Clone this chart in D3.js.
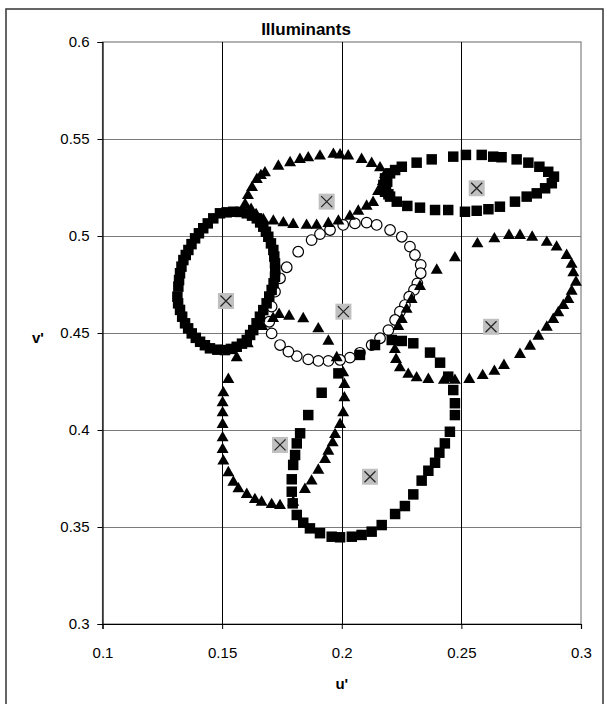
<!DOCTYPE html>
<html>
<head>
<meta charset="utf-8">
<script src="https://cdn.jsdelivr.net/npm/d3@7"></script>
<style>
  body { margin: 0; background: #fff; }
  svg { display: block; font-family: Arial, "Liberation Sans", sans-serif; }
</style>
</head>
<body>
<svg id="chart" width="607" height="704"></svg>
<script>
// tick labels
var uTicks = [0.1, 0.15, 0.2, 0.25, 0.3];
var vTicks = [0.3, 0.35, 0.4, 0.45, 0.5, 0.55, 0.6];

// open circles series [u', v']
var circlePts = [
  [0.1951,0.5031],[0.2006,0.5057],[0.2055,0.5065],[0.2104,0.5069],[0.2146,0.5057],[0.2202,0.5031],
  [0.2251,0.4996],[0.2285,0.4945],[0.2306,0.4902],[0.2330,0.4851],[0.2330,0.4808],[0.2316,0.4756],
  [0.2302,0.4722],[0.2282,0.4687],[0.2264,0.4644],[0.2243,0.4610],[0.2223,0.4567],[0.2195,0.4515],
  [0.2160,0.4473],[0.2125,0.4438],[0.2076,0.4398],[0.2034,0.4373],[0.1993,0.4361],[0.1944,0.4356],
  [0.1902,0.4356],[0.1860,0.4364],[0.1812,0.4381],[0.1777,0.4404],[0.1742,0.4438],[0.1707,0.4498],
  [0.1697,0.4558],[0.1707,0.4636],[0.1721,0.4713],[0.1742,0.4782],[0.1770,0.4839],[0.1818,0.4919],
  [0.1874,0.4979],[0.1909,0.5010]
];

// filled squares series
var squarePts = [
  // left loop
  [0.1547,0.5125],[0.1519,0.5122],[0.1491,0.5117],[0.1463,0.5091],[0.1440,0.5065],[0.1421,0.5040],
  [0.1403,0.5014],[0.1387,0.4988],[0.1372,0.4958],[0.1359,0.4928],[0.1348,0.4902],[0.1338,0.4876],
  [0.1330,0.4842],[0.1324,0.4808],[0.1320,0.4773],[0.1317,0.4739],[0.1313,0.4687],[0.1316,0.4653],
  [0.1324,0.4619],[0.1333,0.4584],[0.1345,0.4550],[0.1358,0.4524],[0.1373,0.4498],[0.1390,0.4475],
  [0.1408,0.4455],[0.1428,0.4437],[0.1449,0.4421],[0.1480,0.4414],[0.1512,0.4412],[0.1537,0.4418],
  [0.1561,0.4429],[0.1583,0.4445],[0.1603,0.4464],[0.1617,0.4490],[0.1630,0.4515],[0.1644,0.4550],
  [0.1658,0.4584],[0.1672,0.4618],[0.1686,0.4653],[0.1697,0.4688],[0.1707,0.4722],[0.1715,0.4756],
  [0.1721,0.4790],[0.1722,0.4825],[0.1721,0.4859],[0.1718,0.4894],[0.1714,0.4928],[0.1704,0.4962],
  [0.1693,0.4996],[0.1683,0.5022],[0.1672,0.5048],[0.1659,0.5070],[0.1645,0.5091],[0.1625,0.5105],
  [0.1603,0.5117],[0.1575,0.5124],
  // top right loop
  [0.2251,0.5357],[0.2313,0.5378],[0.2376,0.5395],[0.2466,0.5409],[0.2519,0.5418],[0.2585,0.5418],
  [0.2633,0.5409],[0.2668,0.5406],[0.2731,0.5395],[0.2780,0.5378],[0.2826,0.5357],[0.2863,0.5331],
  [0.2887,0.5306],[0.2878,0.5272],[0.2850,0.5246],[0.2815,0.5220],[0.2773,0.5203],[0.2724,0.5177],
  [0.2661,0.5151],[0.2613,0.5138],[0.2564,0.5130],[0.2515,0.5125],[0.2445,0.5134],[0.2390,0.5134],
  [0.2327,0.5146],[0.2274,0.5155],[0.2230,0.5177],[0.2202,0.5203],[0.2181,0.5228],[0.2174,0.5263],
  [0.2181,0.5297],[0.2202,0.5323],[0.2223,0.5340],[0.2185,0.5245],[0.2190,0.5280],[0.2195,0.5215],
  // lower loop
  [0.2139,0.4438],[0.2209,0.4464],[0.2251,0.4459],[0.2299,0.4447],[0.2369,0.4399],[0.2411,0.4347],
  [0.2445,0.4275],[0.2466,0.4206],[0.2473,0.4138],[0.2473,0.4077],[0.2452,0.3991],[0.2431,0.3931],
  [0.2408,0.3883],[0.2390,0.3831],[0.2362,0.3790],[0.2334,0.3739],[0.2299,0.3668],[0.2264,0.3608],
  [0.2223,0.3567],[0.2167,0.3510],[0.2125,0.3476],[0.2083,0.3459],[0.2042,0.3450],[0.1993,0.3447],
  [0.1958,0.3450],[0.1909,0.3468],[0.1867,0.3493],[0.1839,0.3522],[0.1812,0.3562],[0.1795,0.3622],
  [0.1791,0.3682],[0.1791,0.3746],[0.1797,0.3820],[0.1805,0.3871],[0.1812,0.3931],[0.1826,0.3983],
  [0.1860,0.4077],[0.1916,0.4192],[0.1986,0.4292],[0.2076,0.4387]
];

// filled triangles series
var trianglePts = [
  // top loop
  [0.1596,0.5160],[0.1608,0.5206],[0.1625,0.5247],[0.1645,0.5289],[0.1662,0.5309],[0.1679,0.5323],
  [0.1735,0.5357],[0.1784,0.5375],[0.1825,0.5392],[0.1860,0.5400],[0.1909,0.5409],[0.1965,0.5418],
  [0.1993,0.5415],[0.2027,0.5410],[0.2083,0.5392],[0.2125,0.5371],[0.2160,0.5349],[0.2181,0.5314],
  [0.2172,0.5278],[0.2152,0.5227],[0.2131,0.5170],[0.2104,0.5151],[0.2069,0.5125],[0.2034,0.5099],
  [0.1986,0.5074],[0.1944,0.5062],[0.1895,0.5052],[0.1853,0.5052],[0.1797,0.5057],[0.1756,0.5065],
  [0.1714,0.5074],[0.1672,0.5082],[0.1642,0.5108],[0.1621,0.5134],
  // lower left loop
  [0.1738,0.4593],[0.1780,0.4584],[0.1839,0.4571],[0.1902,0.4519],[0.1944,0.4455],[0.1979,0.4370],
  [0.2006,0.4292],[0.2011,0.4232],[0.2011,0.4163],[0.2006,0.4086],[0.1993,0.4026],[0.1972,0.3974],
  [0.1962,0.3931],[0.1944,0.3888],[0.1930,0.3845],[0.1902,0.3790],[0.1874,0.3734],[0.1846,0.3691],
  [0.1797,0.3625],[0.1742,0.3608],[0.1707,0.3613],[0.1665,0.3625],[0.1637,0.3639],[0.1603,0.3665],
  [0.1568,0.3694],[0.1547,0.3728],[0.1526,0.3777],[0.1505,0.3837],[0.1502,0.3897],[0.1502,0.3957],
  [0.1502,0.4026],[0.1502,0.4086],[0.1502,0.4138],[0.1505,0.4189],[0.1526,0.4258],[0.1561,0.4370],
  [0.1607,0.4442],[0.1667,0.4531],[0.1713,0.4572],
  // right loop
  [0.2327,0.4737],[0.2292,0.4670],[0.2271,0.4619],[0.2251,0.4567],[0.2236,0.4531],[0.2215,0.4455],
  [0.2222,0.4412],[0.2227,0.4361],[0.2243,0.4318],[0.2278,0.4284],[0.2313,0.4266],[0.2362,0.4258],
  [0.2427,0.4253],[0.2473,0.4253],[0.2533,0.4258],[0.2589,0.4278],[0.2638,0.4300],[0.2678,0.4330],
  [0.2745,0.4387],[0.2787,0.4429],[0.2822,0.4481],[0.2857,0.4527],[0.2884,0.4567],[0.2905,0.4602],
  [0.2926,0.4639],[0.2947,0.4670],[0.2961,0.4713],[0.2979,0.4759],[0.2968,0.4808],[0.2961,0.4851],
  [0.2940,0.4897],[0.2898,0.4940],[0.2857,0.4965],[0.2796,0.4991],[0.2745,0.5000],[0.2699,0.5000],
  [0.2638,0.4983],[0.2567,0.4957],[0.2473,0.4885],[0.2397,0.4821]
];

// white points (centres), grey box with a cross
var centerPts = [
  [0.1516,0.4665],[0.1937,0.5177],[0.2564,0.5246],[0.2007,0.4610],
  [0.2624,0.4532],[0.1742,0.3923],[0.2118,0.3759]
];

var W = 607, H = 704;
var plotL = 102.5, plotR = 581, plotT = 42, plotB = 624;

var svg = d3.select("#chart");

// chart border
svg.append("rect")
  .attr("x", 6).attr("y", 9)
  .attr("width", 597).attr("height", 700)
  .attr("fill", "#fff")
  .attr("stroke", "#333").attr("stroke-width", 1.5);

var x = d3.scaleLinear().domain([0.1, 0.3]).range([plotL, plotR]);
var y = d3.scaleLinear().domain([0.3, 0.6]).range([plotB, plotT]);

var grid = svg.append("g");
// plot area outline (top/right grey)
grid.append("rect")
  .attr("x", plotL).attr("y", plotT)
  .attr("width", plotR - plotL).attr("height", plotB - plotT)
  .attr("fill", "none").attr("stroke", "#808080").attr("stroke-width", 1.2);

grid.selectAll(".hgrid")
  .data(vTicks.slice(1, -1))
  .enter().append("line")
    .attr("x1", plotL).attr("x2", plotR)
    .attr("y1", function(d) { return Math.round(y(d)) + 0.5; })
    .attr("y2", function(d) { return Math.round(y(d)) + 0.5; })
    .attr("stroke", "#7a7a7a").attr("stroke-width", 1);

grid.selectAll(".vgrid")
  .data(uTicks.slice(1, -1))
  .enter().append("line")
    .attr("x1", function(d) { return Math.round(x(d)) + 0.5; })
    .attr("x2", function(d) { return Math.round(x(d)) + 0.5; })
    .attr("y1", plotT).attr("y2", plotB)
    .attr("stroke", "#000").attr("stroke-width", 1);

// axes
var yAxis = d3.axisLeft(y).tickValues(vTicks).tickSize(5).tickPadding(8)
  .tickFormat(function(d) { return String(d); });
var xAxis = d3.axisBottom(x).tickValues(uTicks).tickSize(5).tickPadding(18)
  .tickFormat(function(d) { return String(d); });

var gy = svg.append("g").attr("transform", "translate(" + plotL + ",0)").call(yAxis);
var gx = svg.append("g").attr("transform", "translate(0," + plotB + ")").call(xAxis);

[gx, gy].forEach(function(g) {
  g.select(".domain").attr("stroke", "#000").attr("stroke-width", 1.2);
  g.selectAll(".tick line").attr("stroke", "#000");
  g.selectAll(".tick text")
    .attr("fill", "#000")
    .style("font-size", "15px")
    .style("font-family", "Arial, 'Liberation Sans', sans-serif");
});

// series
var plot = svg.append("g");

plot.selectAll(".circ")
  .data(circlePts)
  .enter().append("circle")
    .attr("cx", function(d) { return x(d[0]); })
    .attr("cy", function(d) { return y(d[1]); })
    .attr("r", 5.3)
    .attr("fill", "#fff")
    .attr("stroke", "#000").attr("stroke-width", 1.2);

var sq = d3.symbol().type(d3.symbolSquare).size(110);
plot.selectAll(".sq")
  .data(squarePts)
  .enter().append("path")
    .attr("d", sq)
    .attr("transform", function(d) { return "translate(" + x(d[0]) + "," + y(d[1]) + ")"; })
    .attr("fill", "#000");

var tri = d3.symbol().type(d3.symbolTriangle).size(62);
plot.selectAll(".tri")
  .data(trianglePts)
  .enter().append("path")
    .attr("d", tri)
    .attr("transform", function(d) { return "translate(" + x(d[0]) + "," + (y(d[1]) - 0.5) + ")"; })
    .attr("fill", "#000");

var cg = plot.selectAll(".ctr")
  .data(centerPts)
  .enter().append("g")
    .attr("transform", function(d) { return "translate(" + x(d[0]) + "," + y(d[1]) + ")"; });
cg.append("rect")
  .attr("x", -8).attr("y", -8).attr("width", 16).attr("height", 16)
  .attr("fill", "#c0c0c0");
cg.append("path")
  .attr("d", "M-5.5,-5.5L5.5,5.5M-5.5,5.5L5.5,-5.5")
  .attr("stroke", "#222").attr("stroke-width", 1.2);

// titles
svg.append("text")
  .attr("x", 306).attr("y", 35)
  .attr("text-anchor", "middle")
  .style("font-size", "17px").style("font-weight", "bold")
  .text("Illuminants");

svg.append("text")
  .attr("x", (plotL + plotR) / 2).attr("y", 689)
  .attr("text-anchor", "middle")
  .style("font-size", "15px").style("font-weight", "bold")
  .text("u'");

svg.append("text")
  .attr("x", 38).attr("y", 343)
  .attr("text-anchor", "middle")
  .style("font-size", "15px").style("font-weight", "bold")
  .text("v'");
</script>
</body>
</html>
